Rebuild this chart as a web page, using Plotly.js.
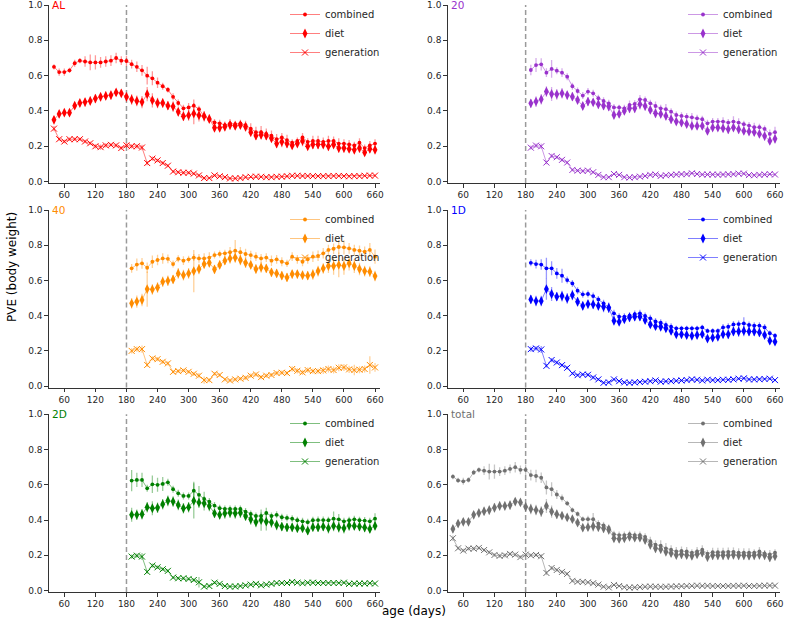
<!DOCTYPE html>
<html>
<head>
<meta charset="utf-8">
<script src="https://cdn.plot.ly/plotly-3.0.1.min.js"></script>
<style>html,body{margin:0;padding:0;background:#fff;}#chart{width:790px;height:618px;}</style>
</head>
<body>
<div id="chart"></div>
<script>
// ---------------- DATA ----------------
const xFull = [40,50,60,70,80,90,100,110,120,130,140,150,160,170,180,190,200,210,220,230,240,250,260,270,280,290,300,310,320,330,340,350,360,370,380,390,400,410,420,430,440,450,460,470,480,490,500,510,520,530,540,550,560,570,580,590,600,610,620,630,640,650,660];
const xLate = [190,200,210,220,230,240,250,260,270,280,290,300,310,320,330,340,350,360,370,380,390,400,410,420,430,440,450,460,470,480,490,500,510,520,530,540,550,560,570,580,590,600,610,620,630,640,650,660];
const xTicks = [60,120,180,240,300,360,420,480,540,600,660];
const yTicks = [0,0.2,0.4,0.6,0.8,1.0];
const cutoffDay = 180;
const seriesNames = ["combined","diet","generation"];
const panelNames = ["AL","20","40","1D","2D","total"];

// AL
const alCombined = [0.65,0.62,0.62,0.63,0.67,0.685,0.68,0.675,0.675,0.675,0.68,0.685,0.70,0.685,0.683,0.665,0.65,0.63,0.60,0.585,0.56,0.54,0.52,0.48,0.445,0.415,0.42,0.43,0.41,0.37,0.35,0.335,0.33,0.32,0.33,0.325,0.33,0.32,0.30,0.28,0.28,0.27,0.26,0.24,0.25,0.235,0.22,0.23,0.25,0.225,0.23,0.23,0.225,0.23,0.23,0.215,0.215,0.21,0.205,0.22,0.19,0.205,0.215];
const alCombinedErr = [0.015,0.02,0.02,0.015,0.02,0.015,0.03,0.045,0.04,0.03,0.03,0.03,0.03,0.025,0.03,0.025,0.03,0.03,0.05,0.04,0.03,0.02,0.015,0.02,0.02,0.02,0.025,0.035,0.02,0.02,0.02,0.02,0.02,0.02,0.025,0.02,0.02,0.025,0.03,0.03,0.035,0.03,0.03,0.03,0.025,0.03,0.02,0.02,0.025,0.02,0.03,0.03,0.025,0.03,0.025,0.03,0.025,0.025,0.02,0.025,0.02,0.025,0.025];
const alDiet = [0.35,0.383,0.39,0.39,0.43,0.445,0.45,0.457,0.47,0.48,0.485,0.49,0.505,0.50,0.48,0.465,0.457,0.45,0.495,0.46,0.445,0.445,0.43,0.425,0.395,0.37,0.375,0.385,0.375,0.37,0.355,0.305,0.305,0.31,0.32,0.315,0.32,0.31,0.28,0.26,0.265,0.26,0.245,0.215,0.225,0.215,0.205,0.215,0.23,0.20,0.21,0.21,0.21,0.20,0.21,0.19,0.19,0.185,0.18,0.19,0.165,0.185,0.18];
const alDietErr = [0.02,0.02,0.02,0.02,0.02,0.02,0.025,0.025,0.025,0.025,0.025,0.025,0.02,0.02,0.025,0.03,0.03,0.035,0.04,0.04,0.03,0.025,0.025,0.03,0.025,0.025,0.03,0.06,0.035,0.03,0.025,0.02,0.02,0.02,0.025,0.02,0.02,0.025,0.025,0.025,0.025,0.025,0.02,0.025,0.03,0.025,0.02,0.02,0.03,0.02,0.025,0.025,0.02,0.025,0.02,0.025,0.025,0.02,0.02,0.025,0.02,0.02,0.02];
const alGen = [0.30,0.24,0.227,0.24,0.24,0.24,0.227,0.217,0.20,0.195,0.205,0.208,0.205,0.19,0.205,0.20,0.20,0.193,0.105,0.13,0.12,0.105,0.09,0.057,0.053,0.05,0.05,0.045,0.035,0.02,0.02,0.035,0.03,0.025,0.018,0.018,0.02,0.025,0.027,0.028,0.027,0.025,0.025,0.027,0.028,0.03,0.033,0.033,0.032,0.032,0.031,0.031,0.031,0.031,0.032,0.032,0.031,0.03,0.031,0.031,0.033,0.034,0.034];
const alGenErr = [0.015,0.01,0.01,0.01,0.01,0.01,0.01,0.01,0.012,0.015,0.012,0.01,0.01,0.01,0.015,0.012,0.012,0.015,0.012,0.012,0.01,0.01,0.01,0.008,0.008,0.008,0.008,0.008,0.01,0.008,0.006,0.006,0.006,0.006,0.006,0.005,0.005,0.005,0.005,0.005,0.005,0.005,0.005,0.005,0.005,0.005,0.005,0.005,0.005,0.005,0.005,0.005,0.005,0.005,0.005,0.005,0.005,0.005,0.005,0.005,0.005,0.006,0.006];

// 20
const d20Combined = [0.632,0.66,0.664,0.617,0.638,0.628,0.617,0.594,0.54,0.513,0.487,0.51,0.50,0.472,0.457,0.443,0.42,0.42,0.415,0.434,0.44,0.466,0.462,0.443,0.428,0.415,0.41,0.396,0.377,0.372,0.368,0.364,0.358,0.353,0.33,0.34,0.34,0.34,0.334,0.34,0.334,0.325,0.317,0.308,0.308,0.298,0.27,0.28];
const d20CombinedErr = [0.03,0.04,0.035,0.025,0.05,0.02,0.025,0.02,0.02,0.02,0.02,0.02,0.02,0.02,0.02,0.02,0.02,0.015,0.02,0.025,0.02,0.025,0.02,0.02,0.025,0.02,0.03,0.02,0.02,0.02,0.02,0.025,0.02,0.02,0.02,0.02,0.02,0.025,0.02,0.03,0.025,0.02,0.02,0.025,0.02,0.02,0.025,0.03];
const d20Diet = [0.443,0.453,0.466,0.51,0.496,0.494,0.50,0.49,0.481,0.462,0.428,0.453,0.449,0.438,0.43,0.425,0.377,0.383,0.40,0.415,0.415,0.438,0.428,0.406,0.387,0.383,0.372,0.353,0.34,0.334,0.326,0.315,0.315,0.315,0.287,0.306,0.306,0.302,0.296,0.306,0.296,0.287,0.283,0.28,0.27,0.258,0.23,0.242];
const d20DietErr = [0.025,0.03,0.03,0.03,0.04,0.03,0.03,0.025,0.025,0.02,0.02,0.025,0.02,0.025,0.025,0.025,0.02,0.02,0.02,0.025,0.025,0.03,0.025,0.02,0.025,0.025,0.025,0.025,0.02,0.02,0.02,0.02,0.02,0.02,0.02,0.02,0.02,0.02,0.025,0.02,0.025,0.02,0.02,0.02,0.02,0.025,0.02,0.025];
const d20Gen = [0.192,0.204,0.20,0.108,0.145,0.138,0.123,0.108,0.066,0.062,0.06,0.062,0.053,0.038,0.025,0.025,0.043,0.038,0.025,0.023,0.025,0.028,0.032,0.038,0.04,0.032,0.036,0.038,0.04,0.042,0.042,0.047,0.043,0.04,0.04,0.04,0.039,0.04,0.041,0.042,0.045,0.045,0.037,0.036,0.038,0.04,0.042,0.04];
const d20GenErr = [0.012,0.012,0.015,0.01,0.012,0.01,0.01,0.01,0.008,0.008,0.008,0.008,0.008,0.008,0.006,0.006,0.006,0.006,0.006,0.006,0.006,0.006,0.006,0.006,0.006,0.006,0.006,0.006,0.006,0.006,0.006,0.006,0.006,0.006,0.006,0.006,0.006,0.006,0.006,0.006,0.006,0.006,0.006,0.006,0.006,0.006,0.006,0.006];

// 40
const d40Combined = [0.669,0.69,0.697,0.672,0.706,0.716,0.725,0.723,0.693,0.723,0.712,0.72,0.73,0.725,0.725,0.73,0.744,0.75,0.754,0.76,0.769,0.76,0.75,0.744,0.735,0.725,0.73,0.712,0.72,0.706,0.697,0.735,0.72,0.706,0.72,0.735,0.74,0.754,0.773,0.78,0.79,0.788,0.782,0.773,0.769,0.763,0.773,0.735];
const d40CombinedErr = [0.025,0.035,0.03,0.03,0.035,0.03,0.03,0.025,0.02,0.02,0.025,0.02,0.02,0.025,0.03,0.03,0.02,0.02,0.02,0.03,0.06,0.03,0.03,0.025,0.025,0.025,0.025,0.03,0.025,0.025,0.02,0.025,0.025,0.025,0.025,0.03,0.03,0.03,0.03,0.03,0.04,0.04,0.03,0.03,0.03,0.03,0.04,0.04];
const d40Diet = [0.47,0.48,0.489,0.551,0.549,0.56,0.593,0.598,0.606,0.64,0.63,0.64,0.653,0.665,0.693,0.70,0.663,0.688,0.712,0.725,0.73,0.716,0.70,0.688,0.665,0.674,0.668,0.646,0.64,0.627,0.617,0.636,0.636,0.63,0.627,0.634,0.653,0.668,0.682,0.682,0.688,0.682,0.697,0.682,0.665,0.653,0.65,0.625];
const d40DietErr = [0.03,0.035,0.035,0.1,0.03,0.03,0.03,0.03,0.025,0.03,0.03,0.03,0.12,0.03,0.025,0.025,0.025,0.025,0.025,0.03,0.03,0.03,0.03,0.025,0.025,0.03,0.025,0.025,0.025,0.025,0.025,0.025,0.025,0.025,0.025,0.03,0.03,0.03,0.04,0.05,0.07,0.05,0.04,0.04,0.035,0.03,0.03,0.03];
const d40Gen = [0.20,0.21,0.21,0.12,0.157,0.153,0.138,0.129,0.081,0.085,0.089,0.081,0.07,0.059,0.034,0.034,0.07,0.063,0.038,0.032,0.038,0.042,0.047,0.059,0.066,0.051,0.059,0.063,0.074,0.076,0.074,0.097,0.087,0.078,0.091,0.085,0.085,0.089,0.097,0.091,0.104,0.106,0.095,0.091,0.093,0.097,0.12,0.106];
const d40GenErr = [0.015,0.015,0.02,0.012,0.012,0.012,0.012,0.012,0.01,0.01,0.01,0.01,0.012,0.015,0.02,0.012,0.01,0.01,0.01,0.01,0.01,0.01,0.012,0.012,0.012,0.012,0.012,0.012,0.012,0.012,0.012,0.015,0.015,0.015,0.015,0.015,0.015,0.02,0.02,0.02,0.02,0.02,0.02,0.03,0.02,0.02,0.05,0.025];

// 1D
const d1Combined = [0.70,0.693,0.69,0.669,0.669,0.64,0.627,0.602,0.583,0.542,0.521,0.523,0.511,0.492,0.47,0.447,0.413,0.394,0.394,0.40,0.409,0.413,0.398,0.385,0.367,0.36,0.347,0.337,0.328,0.328,0.328,0.328,0.328,0.333,0.313,0.313,0.313,0.333,0.337,0.35,0.352,0.356,0.347,0.343,0.343,0.333,0.30,0.286];
const d1CombinedErr = [0.02,0.025,0.03,0.06,0.04,0.03,0.04,0.02,0.02,0.02,0.02,0.02,0.02,0.02,0.02,0.02,0.02,0.02,0.02,0.02,0.02,0.02,0.02,0.02,0.02,0.02,0.02,0.02,0.015,0.015,0.015,0.015,0.015,0.015,0.015,0.015,0.015,0.02,0.02,0.02,0.02,0.035,0.02,0.02,0.02,0.02,0.015,0.015];
const d1Diet = [0.492,0.483,0.483,0.551,0.523,0.508,0.511,0.498,0.517,0.479,0.456,0.466,0.464,0.456,0.45,0.445,0.371,0.365,0.379,0.39,0.394,0.394,0.375,0.35,0.34,0.337,0.328,0.313,0.294,0.294,0.29,0.286,0.29,0.295,0.27,0.275,0.28,0.294,0.294,0.31,0.31,0.313,0.31,0.31,0.305,0.29,0.258,0.252];
const d1DietErr = [0.025,0.03,0.03,0.06,0.04,0.025,0.03,0.03,0.03,0.025,0.025,0.025,0.025,0.025,0.03,0.03,0.02,0.02,0.02,0.025,0.025,0.025,0.02,0.02,0.02,0.02,0.02,0.02,0.02,0.02,0.02,0.02,0.02,0.02,0.02,0.02,0.02,0.02,0.025,0.025,0.03,0.03,0.025,0.025,0.025,0.02,0.02,0.02];
const d1Gen = [0.21,0.214,0.208,0.115,0.148,0.134,0.119,0.104,0.072,0.062,0.066,0.064,0.049,0.038,0.019,0.021,0.038,0.028,0.021,0.019,0.021,0.023,0.025,0.028,0.032,0.025,0.027,0.028,0.03,0.032,0.034,0.038,0.036,0.032,0.036,0.034,0.034,0.036,0.036,0.038,0.042,0.044,0.038,0.038,0.039,0.04,0.042,0.034];
const d1GenErr = [0.015,0.012,0.02,0.01,0.012,0.01,0.01,0.01,0.008,0.008,0.008,0.01,0.01,0.008,0.006,0.006,0.006,0.006,0.006,0.006,0.006,0.006,0.006,0.006,0.006,0.006,0.006,0.006,0.006,0.006,0.006,0.006,0.006,0.006,0.006,0.006,0.006,0.006,0.006,0.006,0.006,0.006,0.006,0.006,0.006,0.006,0.006,0.006];

// 2D
const d2Combined = [0.624,0.628,0.628,0.58,0.603,0.60,0.605,0.614,0.575,0.552,0.537,0.537,0.567,0.543,0.52,0.505,0.482,0.467,0.463,0.463,0.463,0.463,0.448,0.435,0.423,0.423,0.44,0.423,0.43,0.416,0.412,0.408,0.399,0.393,0.388,0.399,0.40,0.40,0.399,0.408,0.404,0.393,0.399,0.404,0.399,0.397,0.393,0.408];
const d2CombinedErr = [0.06,0.04,0.04,0.02,0.05,0.04,0.04,0.02,0.02,0.02,0.02,0.02,0.05,0.05,0.04,0.02,0.02,0.02,0.02,0.02,0.02,0.02,0.02,0.02,0.02,0.02,0.03,0.02,0.02,0.02,0.02,0.02,0.02,0.02,0.02,0.02,0.02,0.02,0.02,0.04,0.03,0.02,0.02,0.02,0.02,0.02,0.02,0.03];
const d2Diet = [0.43,0.43,0.433,0.473,0.467,0.47,0.49,0.509,0.505,0.486,0.467,0.473,0.509,0.499,0.495,0.48,0.438,0.43,0.438,0.442,0.438,0.442,0.423,0.404,0.389,0.40,0.391,0.387,0.372,0.363,0.359,0.359,0.354,0.354,0.34,0.36,0.359,0.363,0.354,0.367,0.359,0.354,0.369,0.367,0.363,0.358,0.35,0.367];
const d2DietErr = [0.04,0.03,0.03,0.03,0.04,0.03,0.03,0.03,0.03,0.03,0.03,0.03,0.1,0.03,0.04,0.03,0.025,0.025,0.03,0.03,0.03,0.03,0.025,0.03,0.03,0.06,0.05,0.03,0.03,0.025,0.025,0.025,0.025,0.025,0.025,0.025,0.025,0.025,0.03,0.03,0.03,0.03,0.03,0.025,0.025,0.025,0.025,0.025];
const d2Gen = [0.193,0.198,0.193,0.106,0.142,0.132,0.121,0.112,0.074,0.07,0.07,0.066,0.06,0.047,0.023,0.026,0.045,0.038,0.026,0.023,0.023,0.026,0.03,0.034,0.038,0.03,0.034,0.038,0.043,0.043,0.043,0.049,0.045,0.042,0.045,0.045,0.043,0.043,0.043,0.043,0.043,0.045,0.038,0.04,0.04,0.04,0.042,0.04];
const d2GenErr = [0.012,0.012,0.02,0.01,0.012,0.01,0.01,0.01,0.008,0.008,0.008,0.008,0.01,0.03,0.008,0.008,0.008,0.006,0.006,0.006,0.006,0.006,0.006,0.006,0.006,0.006,0.006,0.006,0.006,0.006,0.006,0.006,0.006,0.006,0.006,0.006,0.006,0.006,0.006,0.006,0.006,0.006,0.006,0.006,0.006,0.006,0.006,0.006];

// total
const totCombined = [0.647,0.625,0.62,0.628,0.67,0.685,0.68,0.675,0.675,0.675,0.68,0.69,0.70,0.685,0.685,0.655,0.65,0.64,0.585,0.575,0.545,0.525,0.495,0.457,0.435,0.405,0.405,0.405,0.38,0.37,0.355,0.32,0.315,0.315,0.32,0.315,0.315,0.305,0.28,0.26,0.255,0.24,0.232,0.222,0.225,0.222,0.215,0.222,0.232,0.21,0.218,0.218,0.218,0.22,0.22,0.215,0.215,0.215,0.215,0.222,0.21,0.205,0.215];
const totCombinedErr = [0.015,0.015,0.02,0.015,0.015,0.015,0.025,0.045,0.04,0.025,0.025,0.025,0.03,0.025,0.03,0.03,0.035,0.03,0.04,0.04,0.025,0.02,0.015,0.015,0.015,0.015,0.02,0.035,0.02,0.02,0.02,0.02,0.02,0.02,0.02,0.02,0.02,0.02,0.025,0.025,0.03,0.03,0.025,0.025,0.025,0.025,0.02,0.025,0.025,0.02,0.025,0.025,0.025,0.025,0.025,0.025,0.025,0.025,0.02,0.025,0.02,0.025,0.02];
const totDiet = [0.35,0.38,0.39,0.39,0.43,0.44,0.45,0.457,0.47,0.48,0.48,0.485,0.505,0.50,0.475,0.463,0.457,0.448,0.48,0.448,0.433,0.425,0.415,0.405,0.385,0.357,0.36,0.365,0.36,0.353,0.345,0.297,0.293,0.297,0.305,0.30,0.30,0.287,0.26,0.24,0.235,0.22,0.212,0.202,0.206,0.202,0.197,0.206,0.215,0.19,0.2,0.2,0.2,0.2,0.203,0.2,0.2,0.198,0.2,0.203,0.2,0.188,0.195];
const totDietErr = [0.02,0.02,0.02,0.02,0.02,0.02,0.02,0.025,0.025,0.025,0.025,0.025,0.02,0.02,0.025,0.03,0.03,0.03,0.04,0.035,0.025,0.02,0.02,0.02,0.02,0.02,0.02,0.03,0.025,0.025,0.025,0.02,0.02,0.02,0.02,0.02,0.02,0.02,0.025,0.025,0.025,0.02,0.02,0.02,0.025,0.02,0.02,0.02,0.025,0.025,0.025,0.025,0.025,0.025,0.025,0.025,0.025,0.025,0.025,0.025,0.025,0.025,0.025];
const totGen = [0.297,0.24,0.227,0.238,0.238,0.242,0.23,0.217,0.202,0.197,0.2,0.208,0.204,0.19,0.204,0.2,0.202,0.195,0.10,0.128,0.117,0.106,0.095,0.055,0.05,0.049,0.047,0.042,0.034,0.022,0.018,0.032,0.026,0.019,0.017,0.018,0.02,0.022,0.023,0.022,0.021,0.022,0.023,0.024,0.025,0.026,0.027,0.028,0.027,0.027,0.026,0.026,0.026,0.026,0.027,0.027,0.028,0.026,0.026,0.027,0.028,0.029,0.028];
const totGenErr = [0.015,0.01,0.01,0.01,0.01,0.01,0.01,0.01,0.01,0.012,0.012,0.01,0.01,0.01,0.012,0.01,0.01,0.012,0.012,0.012,0.01,0.01,0.01,0.008,0.008,0.008,0.008,0.008,0.008,0.006,0.005,0.005,0.005,0.005,0.005,0.005,0.005,0.005,0.005,0.005,0.005,0.005,0.005,0.005,0.005,0.005,0.005,0.005,0.005,0.005,0.005,0.005,0.005,0.005,0.005,0.005,0.005,0.005,0.005,0.005,0.005,0.005,0.005];

// ---------------- STYLE ----------------
const FONT = "DejaVu Sans, Verdana, sans-serif";
const panels = [
  {name:"AL",    rgb:[255,0,0],     x:xFull, s:[[alCombined,alCombinedErr],[alDiet,alDietErr],[alGen,alGenErr]]},
  {name:"20",    rgb:[153,50,204],  x:xLate, s:[[d20Combined,d20CombinedErr],[d20Diet,d20DietErr],[d20Gen,d20GenErr]]},
  {name:"40",    rgb:[255,140,0],   x:xLate, s:[[d40Combined,d40CombinedErr],[d40Diet,d40DietErr],[d40Gen,d40GenErr]]},
  {name:"1D",    rgb:[0,0,255],     x:xLate, s:[[d1Combined,d1CombinedErr],[d1Diet,d1DietErr],[d1Gen,d1GenErr]]},
  {name:"2D",    rgb:[0,128,0],     x:xLate, s:[[d2Combined,d2CombinedErr],[d2Diet,d2DietErr],[d2Gen,d2GenErr]]},
  {name:"total", rgb:[112,112,112], x:xFull, s:[[totCombined,totCombinedErr],[totDiet,totDietErr],[totGen,totGenErr]]}
];
const markerDefs = [
  {symbol:"circle", size:3.8},
  {symbol:"diamond-tall", size:7},
  {symbol:"x-thin-open", size:6}
];

const W = 790, H = 618;
const colDom = [[48.8/W, 380.2/W],[447.7/W, 780.2/W]];
const rowPx = [[5,183],[210,387.5],[414.3,592]];
const rowDom = rowPx.map(r => [1 - r[1]/H, 1 - r[0]/H]);
const legendTextX = [325, 723];
const legendTopPx = [0, 205, 409];

function rgba(c,a){return `rgba(${c[0]},${c[1]},${c[2]},${a})`;}

const traces = [];
const layout = {
  width: W, height: H,
  margin: {l:0, r:0, t:0, b:0},
  paper_bgcolor: "#fff", plot_bgcolor: "#fff",
  font: {family: FONT, color: "#262626"},
  showlegend: true,
  shapes: [], annotations: []
};

panels.forEach((p, i) => {
  const col = i % 2, row = Math.floor(i / 2);
  const k = i + 1;
  const xa = k === 1 ? "x" : "x" + k;
  const ya = k === 1 ? "y" : "y" + k;
  const lg = k === 1 ? "legend" : "legend" + k;
  const full = rgba(p.rgb, 1);
  p.s.forEach((ser, j) => {
    const md = markerDefs[j];
    const mk = {symbol: md.symbol, size: md.size, color: full};
    if (j === 2) mk.line = {color: full, width: 1};
    else mk.line = {width: 0};
    traces.push({
      type: "scatter", mode: "lines+markers",
      x: p.x, y: ser[0], name: seriesNames[j],
      xaxis: xa, yaxis: ya, legend: lg,
      line: {color: rgba(p.rgb, 0.5), width: 1},
      marker: mk,
      error_y: {type: "data", array: ser[1], visible: true, color: rgba(p.rgb, 0.4), thickness: 1.3, width: 0},
      hoverinfo: "x+y+name"
    });
  });
  const axBase = {
    showline: true, linecolor: "#333", linewidth: 1,
    ticks: "outside", ticklen: 3.5, tickwidth: 1, tickcolor: "#333",
    tickfont: {size: 9, family: FONT, color: "#262626"},
    showgrid: false, zeroline: false
  };
  layout["xaxis" + (k === 1 ? "" : k)] = Object.assign({}, axBase, {
    domain: colDom[col], range: [30, 670], tickvals: xTicks, anchor: ya
  });
  layout["yaxis" + (k === 1 ? "" : k)] = Object.assign({}, axBase, {
    domain: rowDom[row], range: [-0.008, 1.0], tickvals: yTicks, tickformat: ".1f", anchor: xa
  });
  layout[lg] = {
    x: (legendTextX[col] - 40) / W, xanchor: "left",
    y: 1 - legendTopPx[row] / H, yanchor: "top",
    bgcolor: "rgba(0,0,0,0)", borderwidth: 0,
    font: {size: 10, family: FONT, color: "#262626"},
    traceorder: "normal"
  };
  layout.shapes.push({
    type: "line", xref: xa, yref: ya + " domain",
    x0: cutoffDay, x1: cutoffDay, y0: 0, y1: 1,
    line: {color: "#9a9a9a", width: 1.5, dash: "5px,3px"}, layer: "below"
  });
  layout.annotations.push({
    text: p.name, xref: xa + " domain", yref: ya + " domain",
    x: 0.004, y: 1, xanchor: "left", yanchor: "middle", showarrow: false,
    font: {size: 10.5, family: FONT, color: full}
  });
});

layout.annotations.push({
  text: "age (days)", xref: "paper", yref: "paper",
  x: 414 / W, y: 1 - 610.5 / H, xanchor: "center", yanchor: "middle", showarrow: false,
  font: {size: 12, family: FONT, color: "#000"}
});
layout.annotations.push({
  text: "PVE (body weight)", xref: "paper", yref: "paper",
  x: 12 / W, y: 1 - 267 / H, xanchor: "center", yanchor: "middle", showarrow: false, textangle: -90,
  font: {size: 12, family: FONT, color: "#000"}
});

Plotly.newPlot("chart", traces, layout, {displayModeBar: false, staticPlot: true});
</script>
</body>
</html>
